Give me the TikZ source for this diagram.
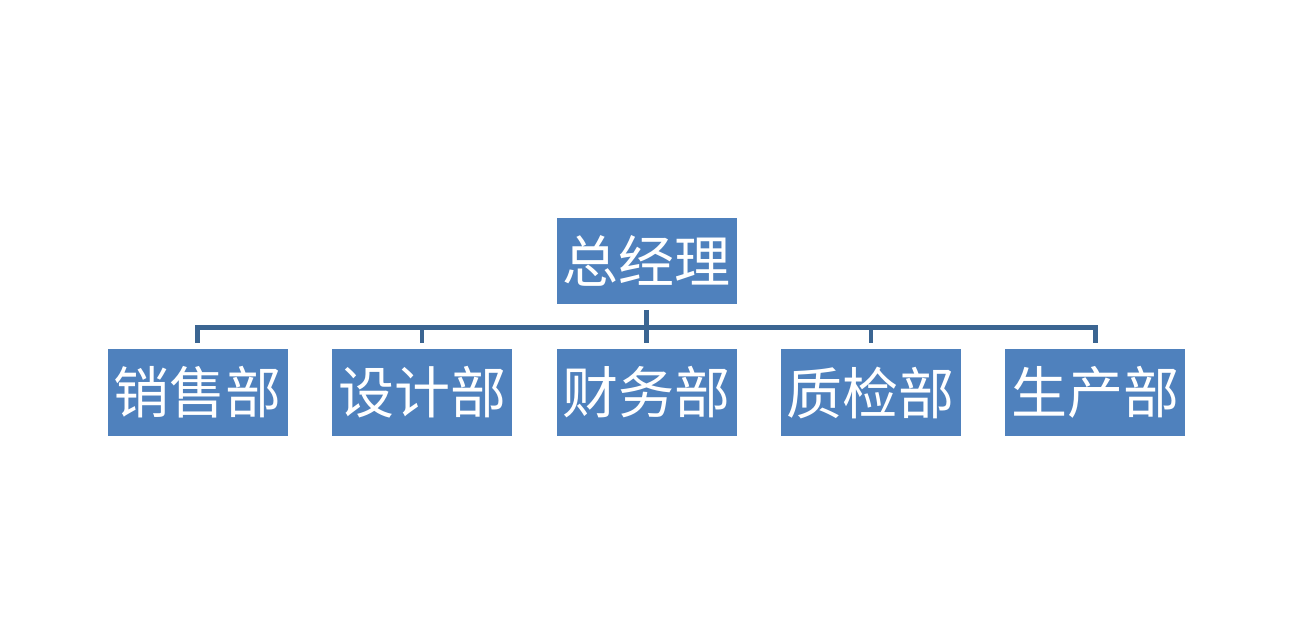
\documentclass[tikz,border=0pt]{standalone}
\usepackage{fontspec}
\newfontfamily\cjk{Noto Sans CJK SC}
\usetikzlibrary{positioning,calc}
\definecolor{orgfill}{HTML}{4F81BD}
\definecolor{orgline}{HTML}{3B6592}
\tikzset{
    orgbox/.style={fill=orgfill, text=white, font=\cjk\fontsize{56}{60}\selectfont, minimum width=180pt, minimum height=87pt, inner sep=0pt},
    orglink/.style={draw=orgline, line width=4.5pt}
}
\begin{document}
\begin{tikzpicture}[x=1pt, y=-1pt, node distance=45pt and 44pt]
        \useasboundingbox (0,0) rectangle (1292,641);
        \node[orgbox] (finance) at (646.5,392.5) {财务部};
        \node[orgbox, left=of finance] (design) {设计部};
        \node[orgbox, left=of design] (sales) {销售部};
        \node[orgbox, right=of finance] (quality) {质检部};
        \node[orgbox, right=of quality] (production) {生产部};
        \node[orgbox, above=of finance, minimum height=86pt] (gm) {总经理};

        \coordinate (barleft) at ($(sales.north)+(0,-21.5)$);
        \coordinate (barright) at ($(production.north)+(0,-21.5)$);

        \draw[orglink] ([yshift=6pt]sales.north) -- (barleft) -- (barright) -- ([yshift=6pt]production.north);
        \draw[orglink] ([yshift=-6pt]gm.south) -- ([yshift=6pt]finance.north);
        \draw[orglink] ([yshift=6pt]design.north) -- (design.north |- barleft);
        \draw[orglink] ([yshift=6pt]quality.north) -- (quality.north |- barleft);
    \end{tikzpicture}
\end{document}
